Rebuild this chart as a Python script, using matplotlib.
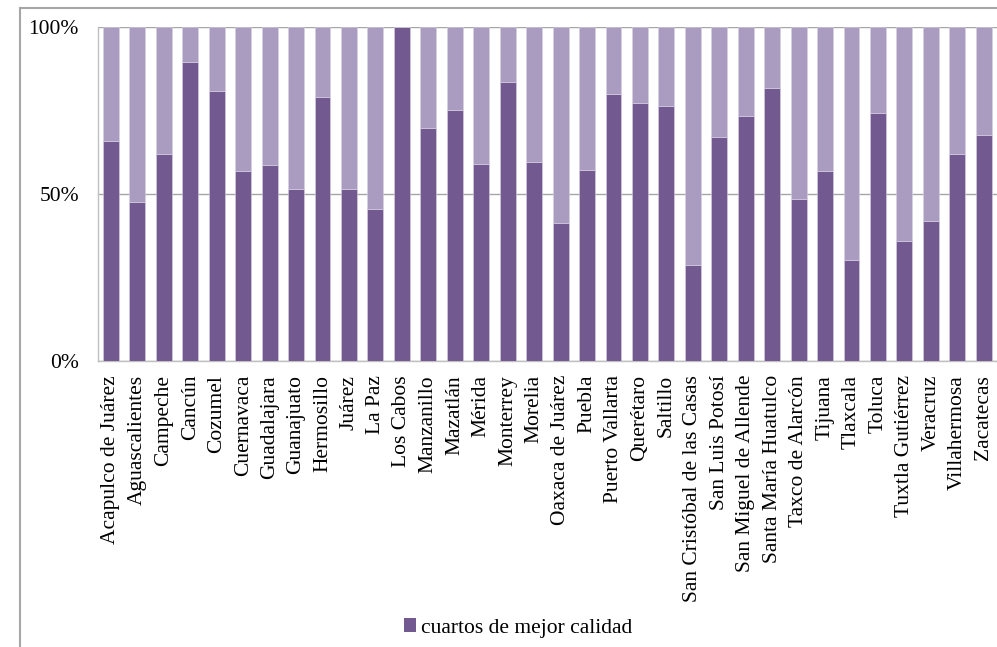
import matplotlib.pyplot as plt
from matplotlib.lines import Line2D
from matplotlib.patches import Patch
import matplotlib.ticker as mticker
import numpy as np

ciudades = ["Acapulco de Juárez", "Aguascalientes", "Campeche", "Cancún", "Cozumel",
            "Cuernavaca", "Guadalajara", "Guanajuato", "Hermosillo", "Juárez", "La Paz",
            "Los Cabos", "Manzanillo", "Mazatlán", "Mérida", "Monterrey", "Morelia",
            "Oaxaca de Juárez", "Puebla", "Puerto Vallarta", "Querétaro", "Saltillo",
            "San Cristóbal de las Casas", "San Luis Potosí", "San Miguel de Allende",
            "Santa María Huatulco", "Taxco de Alarcón", "Tijuana", "Tlaxcala", "Toluca",
            "Tuxtla Gutiérrez", "Veracruz", "Villahermosa", "Zacatecas"]

# % cuartos de mejor calidad
mejor = [66.0, 47.6, 61.9, 89.6, 81.0, 56.8, 58.6, 51.4, 79.2, 51.4, 45.5,
         100.0, 69.8, 75.2, 59.0, 83.5, 59.5, 41.3, 57.1, 79.9, 77.3, 76.3,
         28.7, 67.2, 73.4, 81.8, 48.5, 56.8, 30.2, 74.2, 36.1, 42.0, 61.9, 67.6]
resto = [100 - v for v in mejor]

oscuro = "#72598f"
claro = "#aa9bc0"
gris = "#a6a6a6"

plt.rcParams["font.family"] = ["Liberation Serif", "DejaVu Serif"]
plt.rcParams["font.size"] = 15.5

fig = plt.figure(figsize=(9.97, 6.47), dpi=100)
ax = fig.add_axes([97.7 / 997, 1 - 361 / 647, 1 - 97.7 / 997, (361 - 27.3) / 647])

x = np.arange(len(ciudades))
ax.bar(x, mejor, width=0.6, color=oscuro, edgecolor="#d8d0e3", linewidth=0.4, zorder=3)
ax.bar(x, resto, bottom=mejor, width=0.6, color=claro, edgecolor="#d8d0e3", linewidth=0.4, zorder=3)

ax.set_xlim(-0.5, len(ciudades) - 0.5)
ax.set_ylim(0, 100)
ax.set_yticks([0, 50, 100])
ax.yaxis.set_major_formatter(mticker.FuncFormatter(lambda v, p: f"{int(v)}%"))
ax.set_xticks(x)
ax.set_xticklabels(ciudades, rotation=90, ha="center", va="top")
ax.tick_params(axis="y", length=0, pad=13.5)
ax.tick_params(axis="x", length=0, pad=10)
ax.yaxis.grid(True, color=gris, linewidth=1, zorder=0)
for s in ["top", "right"]:
    ax.spines[s].set_visible(False)
for s in ["left", "bottom"]:
    ax.spines[s].set_color("#c0c0c0")
    ax.spines[s].set_linewidth(1)

# marco exterior del gráfico
fig.add_artist(Line2D([20 / 997, 20 / 997], [0, 1 - 8 / 647], transform=fig.transFigure,
                      color=gris, linewidth=1.5))
fig.add_artist(Line2D([20 / 997, 1], [1 - 8 / 647, 1 - 8 / 647], transform=fig.transFigure,
                      color=gris, linewidth=1.5))

fig.legend(handles=[Patch(facecolor=oscuro, edgecolor="none", label="cuartos de mejor calidad")],
           loc="center left", bbox_to_anchor=(404 / 997, 1 - 628 / 647), frameon=False,
           handlelength=0.56, handleheight=0.56, handletextpad=0.22, borderpad=0, borderaxespad=0)

plt.savefig("out.png", dpi=100)
